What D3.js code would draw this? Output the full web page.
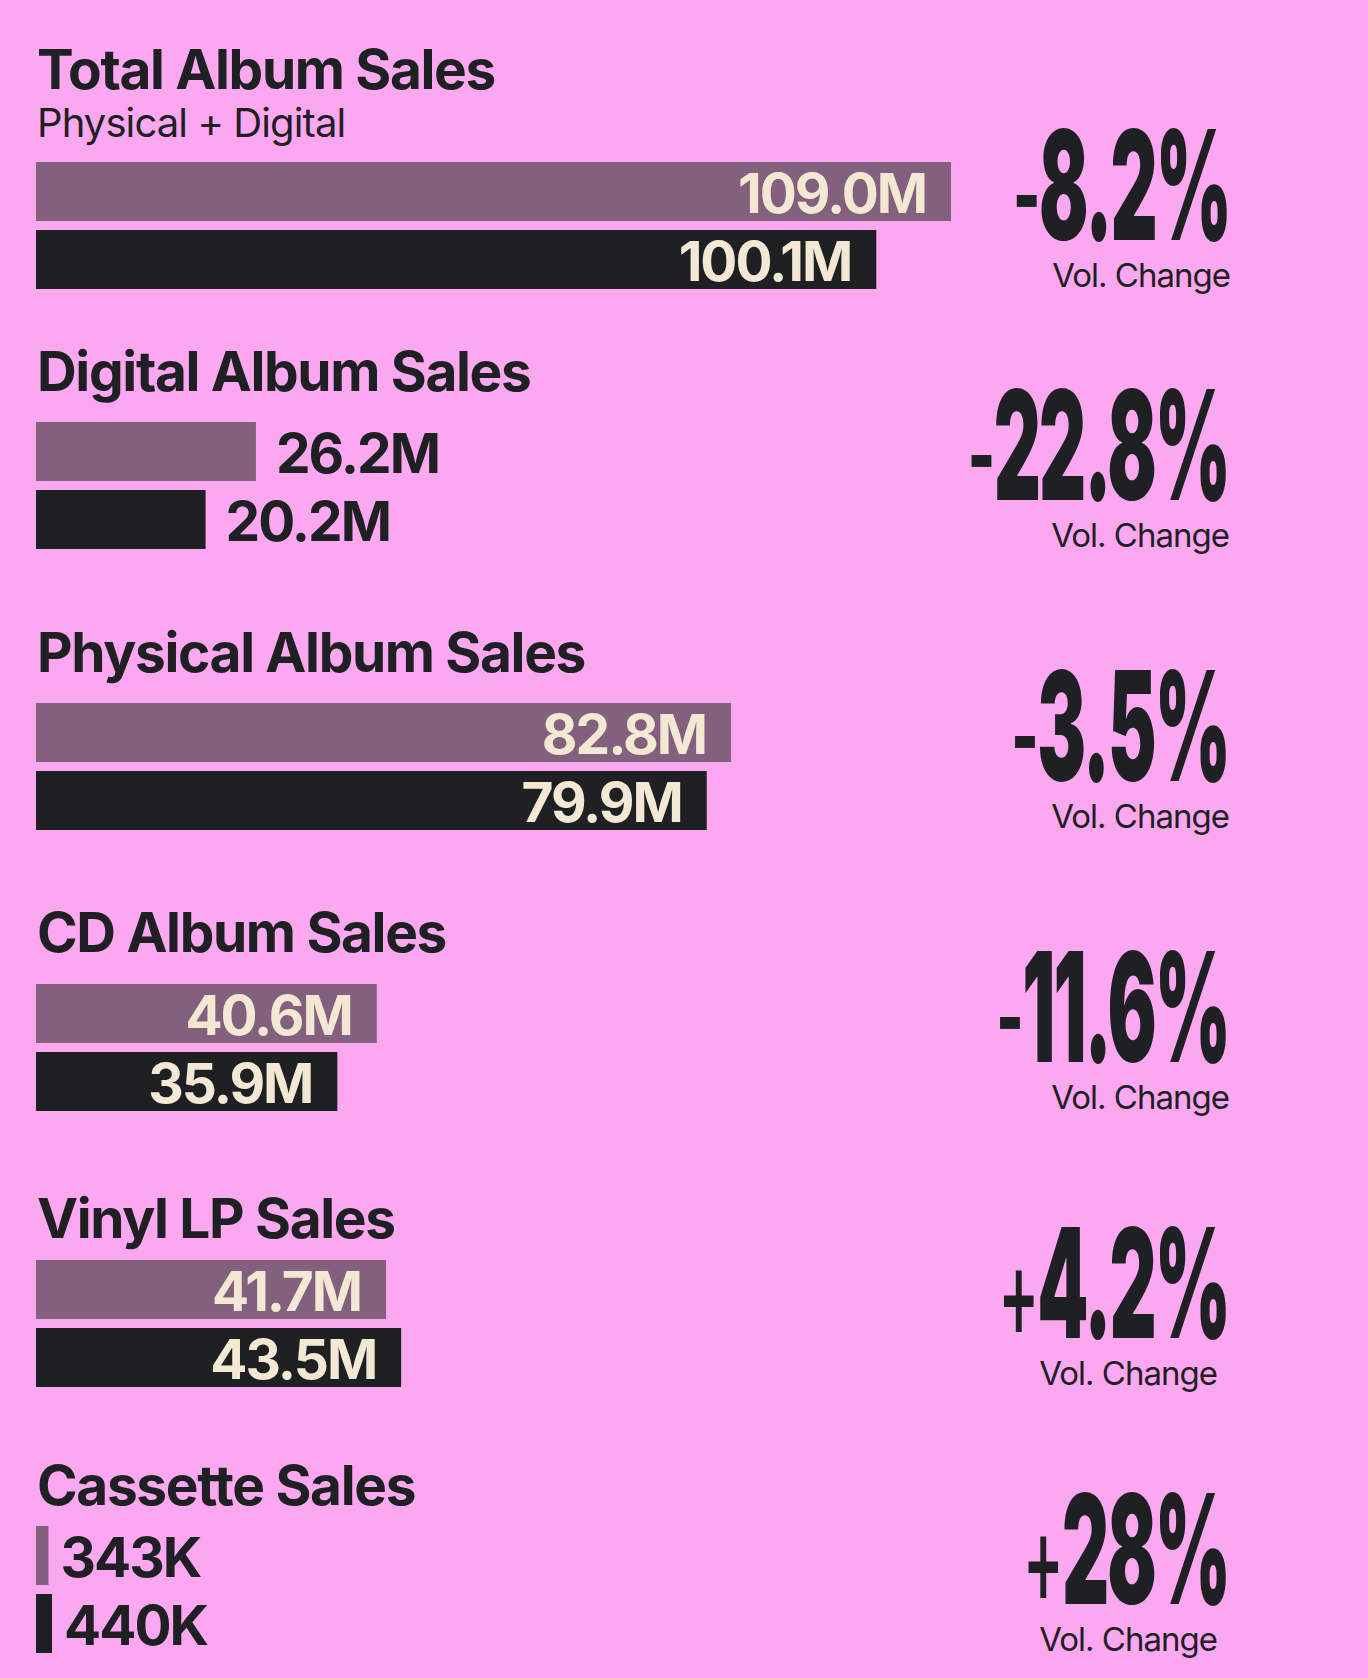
<!DOCTYPE html>
<html>
<head>
<meta charset="utf-8">
<script src="https://cdn.jsdelivr.net/npm/d3@7"></script>
<style>
  html, body { margin: 0; padding: 0; background: #fca8f0; }
  svg { display: block; }
</style>
</head>
<body>
<svg id="chart" width="1368" height="1678"></svg>
<script>
// ---- data (values in millions) ----
const categories = ["Total Album Sales", "Digital Album Sales", "Physical Album Sales", "CD Album Sales", "Vinyl LP Sales", "Cassette Sales"];
const subtitles  = ["Physical + Digital", "", "", "", "", ""];
const prevYear   = [109.0, 26.2, 82.8, 40.6, 41.7, 0.343];
const currYear   = [100.1, 20.2, 79.9, 35.9, 43.5, 0.440];
const volChange  = ["-8.2%", "-22.8%", "-3.5%", "-11.6%", "+4.2%", "+28%"];
const changeLabel = "Vol. Change";

// ---- layout ----
const W = 1368, H = 1678;
const left = 36;
const sectionBarTop = [162, 422, 703, 984, 1260, 1526];
const titleBaseline = [89, 391, 672, 952, 1238, 1505];
const barH = 59, barStep = 68;
const pctRight = [1230, 1229, 1229, 1229, 1229, 1229];
const changeRight = [1230, 1229, 1229, 1229, 1217, 1217];

const C = {
  bg: "#fca8f0",
  prev: "#83617e",
  curr: "#1f2024",
  cream: "#f2e8d3",
  ink: "#1f2024"
};

const fmt = v => v >= 1 ? d3.format(".1f")(v) + "M" : Math.round(v * 1000) + "K";

const svg = d3.select("#chart");
svg.append("rect").attr("width", W).attr("height", H).attr("fill", C.bg);

const x = d3.scaleLinear().domain([0, 109]).range([0, 915]);
const xSmall = d3.scaleLinear().domain([0, 0.44]).range([0, 16]); // cassette scale

const rows = categories.map((c, i) => ({
  i, name: c, sub: subtitles[i],
  bars: [
    { key: "prev", v: prevYear[i] },
    { key: "curr", v: currYear[i] }
  ],
  change: volChange[i]
}));

const g = svg.selectAll("g.section").data(rows).join("g").attr("class", "section");

// titles
g.append("text")
  .attr("x", left + 1)
  .attr("y", d => titleBaseline[d.i])
  .attr("font-family", "Inter, 'Noto Sans', sans-serif")
  .attr("font-weight", 700)
  .attr("font-size", 55)
  .attr("letter-spacing", "-1.35")
  .attr("fill", C.ink)
  .text(d => d.name);

g.filter(d => d.sub).append("text")
  .attr("x", left + 1)
  .attr("y", 137)
  .attr("font-family", "Inter, 'Noto Sans', sans-serif")
  .attr("font-weight", 400)
  .attr("font-size", 40)
  .attr("letter-spacing", "-0.9")
  .attr("fill", C.ink)
  .text(d => d.sub);

// bars
g.each(function(d) {
  const sel = d3.select(this);
  const scale = d.i === 5 ? xSmall : x;
  const small = d.i === 5;
  d.bars.forEach((b, j) => {
    const y0 = sectionBarTop[d.i] + j * barStep;
    const w = scale(b.v);
    sel.append("rect")
      .attr("x", left).attr("y", y0)
      .attr("width", w).attr("height", barH)
      .attr("fill", b.key === "prev" ? C.prev : C.curr);
    const label = sel.append("text")
      .attr("y", y0 + 51)
      .attr("font-family", "Inter, 'Noto Sans', sans-serif")
      .attr("font-weight", 700)
      .attr("font-size", 55)
      .attr("letter-spacing", "-2")
      .text(fmt(b.v));
    const inside = w > 260;
    if (inside) {
      label.attr("x", left + w - 25).attr("text-anchor", "end").attr("fill", C.cream);
    } else {
      label.attr("x", left + w + (small ? 12 : 20)).attr("text-anchor", "start").attr("fill", C.ink);
    }
  });

  // percentage change (condensed heavy)
  const base = sectionBarTop[d.i] + 78;
  const pct = sel.append("g")
    .attr("transform", `translate(${pctRight[d.i]},${base}) scale(0.48,1)`)
    .append("text")
    .attr("x", 0).attr("y", 0)
    .attr("text-anchor", "end")
    .attr("font-family", "Inter, Roboto, sans-serif")
    .attr("font-weight", 900)
    .attr("font-size", 152)
    .attr("letter-spacing", "-4")
    .attr("fill", C.ink);
  const sign = d.change[0];
  pct.append("tspan")
    .attr("font-weight", 500)
    .attr("font-size", 128)
    .attr("dx", 0)
    .text(sign);
  pct.append("tspan")
    .text(d.change.slice(1));

  sel.append("text")
    .attr("x", changeRight[d.i])
    .attr("y", base + 47)
    .attr("text-anchor", "end")
    .attr("font-family", "Inter, 'Noto Sans', sans-serif")
    .attr("font-weight", 400)
    .attr("font-size", 33)
    .attr("letter-spacing", "-1")
    .attr("fill", C.ink)
    .text(changeLabel);
});
</script>
</body>
</html>
